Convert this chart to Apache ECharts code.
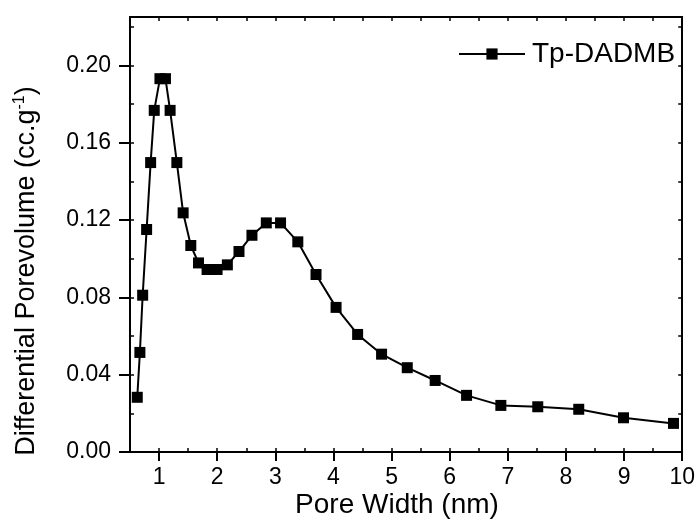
<!DOCTYPE html>
<html>
<head>
<meta charset="utf-8">
<script src="https://cdn.jsdelivr.net/npm/echarts@6/dist/echarts.min.js"></script>
<style>
  html, body { margin: 0; padding: 0; background: #fff; }
  #chart { width: 698px; height: 520px; }
</style>
</head>
<body>
<div id="chart"></div>
<script>
  // pore size distribution
  var poreWidth = [0.625, 0.67, 0.718, 0.786, 0.855, 0.917, 1.015, 1.11, 1.19, 1.306, 1.414,
    1.546, 1.678, 1.826, 1.998, 2.175, 2.375, 2.598, 2.845, 3.09, 3.387, 3.70, 4.045,
    4.416, 4.828, 5.27, 5.75, 6.29, 6.88, 7.515, 8.22, 8.99, 9.85];
  var porevolume = [0.0283, 0.0515, 0.0811, 0.1151, 0.1497, 0.1767, 0.1931, 0.1931, 0.1767, 0.1497, 0.1237,
    0.1068, 0.0978, 0.0944, 0.0944, 0.0968, 0.1037, 0.1121, 0.1185, 0.1185, 0.1087, 0.0918, 0.0748,
    0.0608, 0.0506, 0.0436, 0.0370, 0.0293, 0.0241, 0.0234, 0.0221, 0.0177, 0.0148];
  var seriesName = 'Tp-DADMB';

  var xTicks = [1, 2, 3, 4, 5, 6, 7, 8, 9, 10];
  var xMinorTicks = [0.5, 1, 1.5, 2, 2.5, 3, 3.5, 4, 4.5, 5, 5.5, 6, 6.5, 7, 7.5, 8, 8.5, 9, 9.5, 10];
  var yTicks = [0, 0.04, 0.08, 0.12, 0.16, 0.20];
  var yMinorTicks = [0.02, 0.04, 0.06, 0.08, 0.10, 0.12, 0.14, 0.16, 0.18, 0.20, 0.22];

  var font = 'Arial, "Liberation Sans", sans-serif';
  var black = '#000';

  var chart = echarts.init(document.getElementById('chart'));

  var seriesData = poreWidth.map(function (x, i) {
    return [x, porevolume[i]];
  });

  function frameAxis(extra) {
    return Object.assign({
      type: 'value',
      splitLine: { show: false },
      axisLine: { show: true, onZero: false, lineStyle: { color: black, width: 2 } },
      axisLabel: { show: false },
      axisTick: { show: false }
    }, extra);
  }

  chart.setOption({
    animation: false,
    backgroundColor: '#fff',
    grid: { left: 130, right: 15, top: 17, bottom: 68, containLabel: false },
    legend: {
      data: [seriesName],
      left: 453,
      top: 35,
      itemWidth: 66,
      itemHeight: 14,
      textStyle: { fontFamily: font, fontSize: 28, color: black, padding: [0, 0, 0, 2] }
    },
    xAxis: [
      frameAxis({
        position: 'bottom', min: 0.5, max: 10,
        axisTick: { show: true, customValues: xTicks, length: 9, lineStyle: { color: black, width: 2 } },
        axisLabel: {
          show: true, customValues: xTicks, margin: 14,
          fontFamily: font, fontSize: 23, color: black
        }
      }),
      frameAxis({
        position: 'top', min: 0.5, max: 10,
        axisTick: { show: true, inside: true, customValues: xMinorTicks, length: 4, lineStyle: { color: black, width: 1.5 } }
      }),
      frameAxis({
        position: 'bottom', min: 0.5, max: 10,
        axisLine: { show: false, onZero: false },
        axisTick: { show: true, inside: true, customValues: xMinorTicks, length: 4, lineStyle: { color: black, width: 1.5 } }
      })
    ],
    yAxis: [
      frameAxis({
        position: 'left', min: 0, max: 0.225,
        axisTick: { show: true, customValues: yTicks, length: 11, lineStyle: { color: black, width: 2 } },
        axisLabel: {
          show: true, customValues: yTicks, margin: 19,
          fontFamily: font, fontSize: 23, color: black,
          formatter: function (v) { return v.toFixed(2); }
        }
      }),
      frameAxis({
        position: 'right', min: 0, max: 0.225,
        axisTick: { show: true, inside: true, customValues: yMinorTicks, length: 4, lineStyle: { color: black, width: 1.5 } }
      }),
      frameAxis({
        position: 'left', min: 0, max: 0.225,
        axisLine: { show: false, onZero: false },
        axisTick: { show: true, inside: true, customValues: yMinorTicks, length: 4, lineStyle: { color: black, width: 1.5 } }
      })
    ],
    graphic: [
      {
        type: 'text',
        x: 397, y: 505,
        style: {
          text: 'Pore Width (nm)',
          font: '28px ' + font,
          fill: black,
          align: 'center',
          verticalAlign: 'middle'
        }
      },
      {
        type: 'text',
        x: 27, y: 271,
        rotation: Math.PI / 2,
        style: {
          text: '{a|Differential Porevolume (cc.g}{s|-1}{a|)}',
          fill: black,
          align: 'center',
          verticalAlign: 'middle',
          rich: {
            a: { fontFamily: font, fontSize: 27, color: black, lineHeight: 30 },
            s: { fontFamily: font, fontSize: 16, color: black, verticalAlign: 'top', lineHeight: 30, padding: [0, 0, 10, 0] }
          }
        }
      }
    ],
    series: [{
      name: seriesName,
      type: 'line',
      xAxisIndex: 0,
      yAxisIndex: 0,
      data: seriesData,
      symbol: 'rect',
      symbolSize: 11,
      showSymbol: true,
      color: black,
      itemStyle: { color: black },
      lineStyle: { color: black, width: 2 }
    }]
  });
</script>
</body>
</html>
